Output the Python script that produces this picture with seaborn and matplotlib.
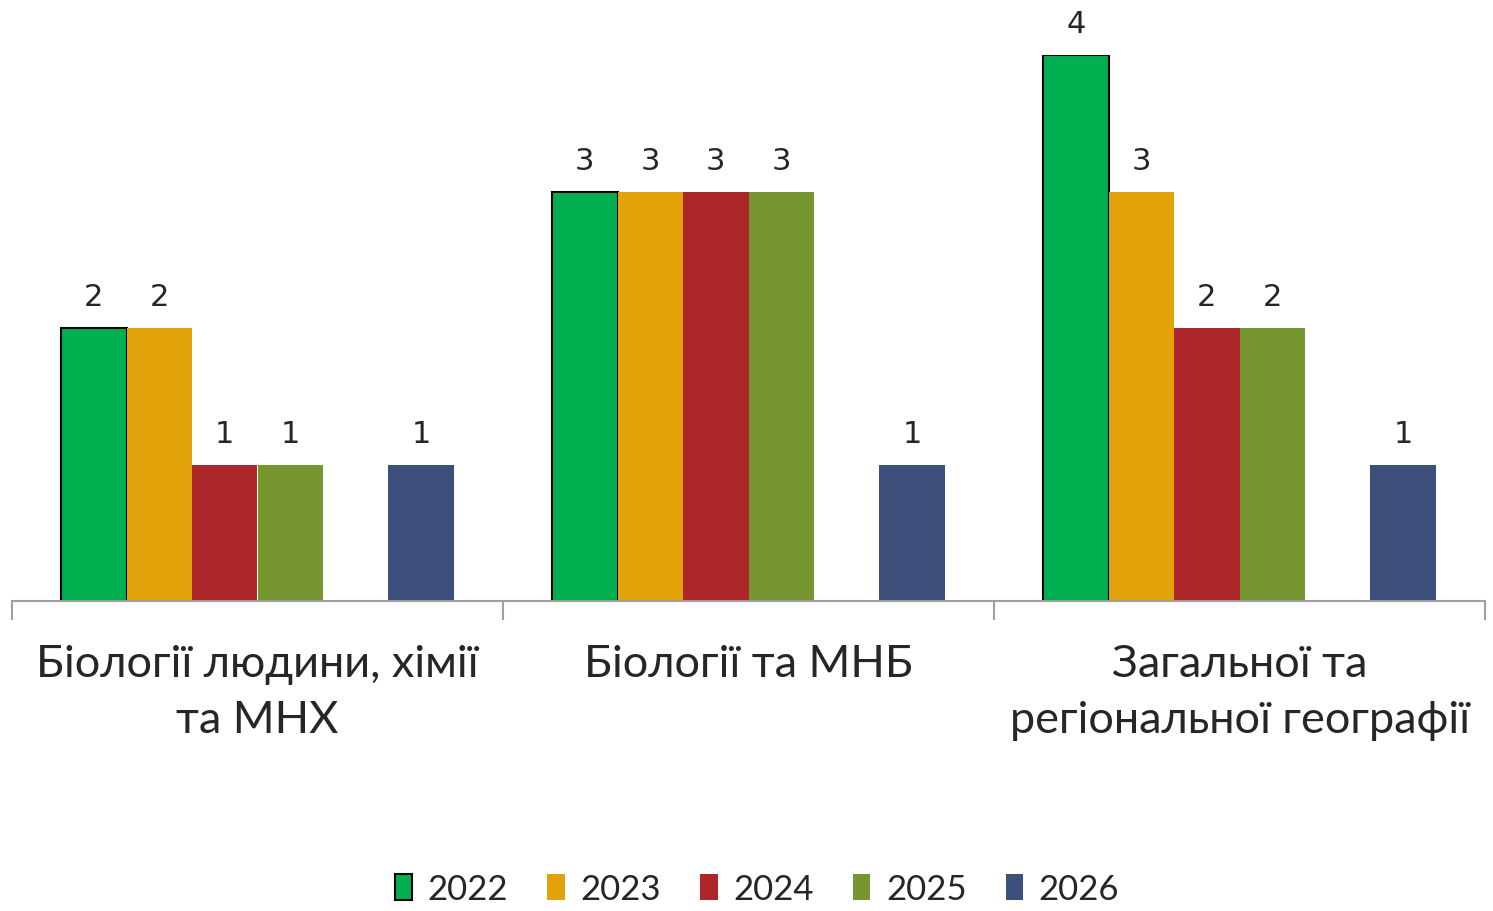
import numpy as np
import pandas as pd
import matplotlib.pyplot as plt
import seaborn as sns
from matplotlib.patches import Patch

categories = ['Біології людини, хімії\nта МНХ', 'Біології та МНБ', 'Загальної та\nрегіональної географії']
years = ['2022', '2023', '2024', '2025', ' ', '2026']   # ' ' is the empty slot
v2022 = [2, 3, 4]
v2023 = [2, 3, 3]
v2024 = [1, 3, 2]
v2025 = [1, 3, 2]
vgap = [np.nan, np.nan, np.nan]
v2026 = [1, 1, 1]
colors = ['#00B050', '#E2A30A', '#AD262A', '#76962F', '#FFFFFF', '#3D4F7B']

rows = []
for yr, vals in zip(years, [v2022, v2023, v2024, v2025, vgap, v2026]):
    for c, v in zip(categories, vals):
        rows.append({'cat': c, 'year': yr, 'val': v})
df = pd.DataFrame(rows)

sns.set_style('white')
plt.rcParams['font.family'] = ['Lato', 'DejaVu Sans']

fig = plt.figure(figsize=(14.93, 9.12), dpi=100)
ax = fig.add_axes([12/1493, 1-602/912, 1473/1493, (602-56)/912])

sns.barplot(data=df, x='cat', y='val', hue='year', order=categories, hue_order=years,
            palette=dict(zip(years, colors)), width=0.8, saturation=1, ax=ax,
            legend=False, errorbar=None, linewidth=0)

real_years = [y for y in years if y.strip()]
for cont, yr in zip(ax.containers, real_years if len(ax.containers) == 5 else years):
    if yr == '2022':
        for p in cont:
            p.set_edgecolor('black')
            p.set_linewidth(1.5)
    if yr.strip():
        ax.bar_label(cont, fmt='%g', padding=12, fontsize=22, family='DejaVu Sans', clip_on=False)

ax.set_ylim(0, 4)
ax.set_xlim(-0.5, 2.5)
ax.set_yticks([])
ax.set_xlabel('')
ax.set_ylabel('')
for s in ['top', 'right', 'left']:
    ax.spines[s].set_visible(False)
ax.spines['bottom'].set_color('#A0A0A0')
ax.spines['bottom'].set_linewidth(1.5)
ax.set_xticks(range(3))
ax.set_xticklabels(categories, fontsize=32.5, linespacing=1.45)
ax.tick_params(axis='x', which='major', length=0, pad=30)
ax.set_xticks([-0.5, 0.5, 1.5, 2.5], minor=True)
ax.tick_params(axis='x', which='minor', bottom=True, length=14, width=1.5,
               color='#A0A0A0', direction='out')
ax.patch.set_alpha(0)

handles = [Patch(facecolor=c, edgecolor='black' if y == '2022' else c, linewidth=1.5 if y == '2022' else 0)
           for y, c in zip(years, colors) if y.strip()]
fig.legend(handles, real_years, loc='center', bbox_to_anchor=(757/1493, 1-890/912), ncol=5,
           frameon=False, fontsize=25, handlelength=0.5, handleheight=0.75,
           handletextpad=0.45, columnspacing=1.13)

fig.savefig('out.png', dpi=100)
